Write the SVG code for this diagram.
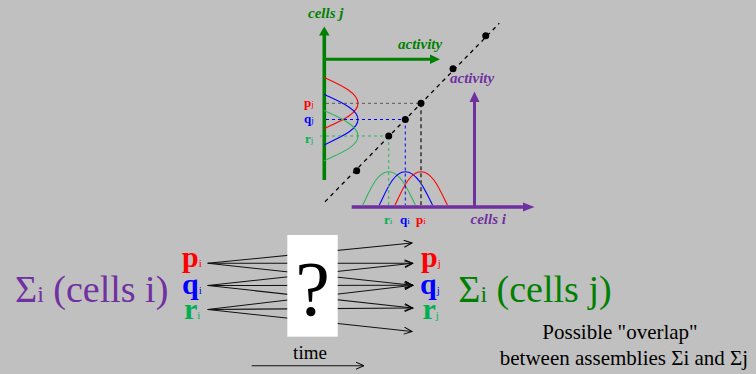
<svg xmlns="http://www.w3.org/2000/svg" width="756" height="374" viewBox="0 0 756 374">
<defs>
<marker id="open" markerWidth="10" markerHeight="8" refX="9" refY="4" orient="auto" markerUnits="userSpaceOnUse">
<path d="M1,0.5 L9,4 L1,7.5" fill="none" stroke="#000" stroke-width="1"/>
</marker>
</defs>
<style>
text{font-family:'Liberation Serif','Times New Roman',serif}
.bi{font-weight:bold;font-style:italic;font-size:15px}
.red{fill:#ff0000}.blue{fill:#0000ff}.lg{fill:#00b050}
.dk{fill:#008000}.pu{fill:#7030a0}
.conn{stroke:#111;stroke-width:1.1;fill:none;marker-end:url(#open)}
.dash{fill:none;stroke-dasharray:3 3;stroke-width:1}
.curve{fill:none;stroke-width:1.1}
</style>
<rect x="0" y="0" width="756" height="374" fill="#c0c0c0"/>

<g id="graph-j-axis">
<line x1="324.3" y1="180" x2="324.3" y2="34" stroke="#008000" stroke-width="3.6"/>
<polygon points="324.3,26.5 319,35.5 329.6,35.5" fill="#008000"/>
<line x1="324.3" y1="59.3" x2="431" y2="59.3" stroke="#008000" stroke-width="3"/>
<polygon points="440,59.3 430,54.6 430,64" fill="#008000"/>
<text class="bi dk" x="308" y="18">cells j</text>
<text class="bi dk" x="398" y="49">activity</text>
</g>

<g id="graph-i-axis">
<line x1="351.7" y1="207" x2="524" y2="207" stroke="#7030a0" stroke-width="3.6"/>
<polygon points="534.5,207 523,202.5 523,211.5" fill="#7030a0"/>
<line x1="474.5" y1="207" x2="474.5" y2="101" stroke="#7030a0" stroke-width="3"/>
<polygon points="474.5,91.5 469.5,102 479.5,102" fill="#7030a0"/>
<text class="bi pu" x="450" y="82.5">activity</text>
<text class="bi pu" x="470.5" y="224">cells i</text>
</g>

<g id="j-curves">
<path class="curve" stroke="#ff0000" d="M324,77.3 C338,84 358,92 358,103.3 C358,114.5 338,122 324,128.5"/>
<path class="curve" stroke="#0000ff" d="M324,94.3 C338,101 358,108.5 358,119.5 C358,130.5 338,138 324,145"/>
<path class="curve" stroke="#2db35f" d="M324,110.5 C338,117 358,125 358,136 C358,147 338,154 324,161"/>
</g>

<g id="i-curves">
<path class="curve" stroke="#2db35f" d="M362.7,205 C370,190 377,171.7 388.7,171.7 C400.4,171.7 408,190 415.3,205"/>
<path class="curve" stroke="#0000ff" d="M379.3,205 C386.6,190 393.6,171.7 405.3,171.7 C417,171.7 425,190 432.5,205"/>
<path class="curve" stroke="#ff0000" d="M395,205 C402.3,190 409.3,171.7 421,171.7 C432.7,171.7 440,190 447.3,205"/>
</g>

<g id="mapping">
<line x1="325" y1="201.7" x2="499.3" y2="23.3" stroke="#000" stroke-width="1.3" stroke-dasharray="4 4"/>
<line class="dash" x1="326" y1="103.3" x2="421" y2="103.3" stroke="#555"/>
<line class="dash" x1="326" y1="119.5" x2="405.3" y2="119.5" stroke="#0000ff"/>
<line class="dash" x1="320" y1="136" x2="388.7" y2="136" stroke="#2db35f"/>
<line x1="421" y1="103.3" x2="421" y2="205" stroke="#555" stroke-width="2" stroke-dasharray="4 3"/>
<line class="dash" x1="405.3" y1="119.5" x2="405.3" y2="205" stroke="#0000ff"/>
<line class="dash" x1="388.7" y1="136" x2="388.7" y2="205" stroke="#2db35f"/>
<circle cx="485.7" cy="35.7" r="3.5"/>
<circle cx="453" cy="68.7" r="3.5"/>
<circle cx="421" cy="103.3" r="3.5"/>
<circle cx="405.3" cy="119.5" r="3.5"/>
<circle cx="388.7" cy="136" r="3.5"/>
<circle cx="356.7" cy="170.7" r="3.5"/>
</g>

<g id="j-labels" font-weight="bold" font-size="13">
<text class="red" x="304" y="107">p<tspan font-size="9" font-weight="normal">j</tspan></text>
<text class="blue" x="304" y="122.7">q<tspan font-size="9" font-weight="normal">j</tspan></text>
<text class="lg" x="305" y="142.5">r<tspan font-size="9" font-weight="normal">j</tspan></text>
</g>
<g id="i-labels" font-weight="bold" font-size="13">
<text class="lg" x="384" y="224">r<tspan font-size="9" font-weight="normal">i</tspan></text>
<text class="blue" x="400" y="224">q<tspan font-size="9" font-weight="normal">i</tspan></text>
<text class="red" x="416" y="224">p<tspan font-size="9" font-weight="normal">i</tspan></text>
</g>

<g id="connectors">
<line class="conn" x1="207.7" y1="263.3" x2="412" y2="243"/>
<line class="conn" x1="207.7" y1="263.3" x2="412.7" y2="263.3"/>
<line class="conn" x1="207.7" y1="263.3" x2="412.7" y2="285.3"/>
<line class="conn" x1="207.7" y1="285.5" x2="412.7" y2="263.3"/>
<line class="conn" x1="207.7" y1="285.5" x2="412.7" y2="285.3"/>
<line class="conn" x1="207.7" y1="285.5" x2="412.7" y2="308"/>
<line class="conn" x1="207.7" y1="309.5" x2="412.7" y2="285.3"/>
<line class="conn" x1="207.7" y1="309.5" x2="412.7" y2="308"/>
<line class="conn" x1="207.7" y1="309.5" x2="412" y2="331.5"/>
<line class="conn" x1="251.7" y1="365.7" x2="364" y2="365.7"/>
</g>

<g id="box">
<rect x="287.3" y="235" width="50.4" height="101.7" fill="#ffffff"/>
<text x="312.5" y="315" font-size="78" text-anchor="middle" fill="#000">?</text>
</g>

<g id="source">
<text class="pu" x="15" y="302" font-size="38">Σ<tspan font-size="24">i</tspan> (cells i)</text>
<text class="red" x="182" y="267" font-size="30" font-weight="bold">p<tspan font-size="11" font-weight="normal">i</tspan></text>
<text class="blue" x="182" y="293.5" font-size="30" font-weight="bold">q<tspan font-size="11" font-weight="normal">i</tspan></text>
<text class="lg" x="184" y="319" font-size="30" font-weight="bold">r<tspan font-size="11" font-weight="normal">i</tspan></text>
</g>

<g id="target">
<text class="red" x="421" y="267" font-size="30" font-weight="bold">p<tspan font-size="11" font-weight="normal">j</tspan></text>
<text class="blue" x="420" y="293.5" font-size="30" font-weight="bold">q<tspan font-size="11" font-weight="normal">j</tspan></text>
<text class="lg" x="422.5" y="319" font-size="30" font-weight="bold">r<tspan font-size="11" font-weight="normal">j</tspan></text>
<text class="dk" x="458.3" y="302" font-size="38">Σ<tspan font-size="24">i</tspan> (cells j)</text>
</g>

<g id="notes" fill="#000">
<text x="310" y="359" font-size="19" text-anchor="middle">time</text>
<text x="620" y="339" font-size="21" text-anchor="middle">Possible "overlap"</text>
<text x="624" y="365" font-size="21" text-anchor="middle">between assemblies Σi and Σj</text>
</g>
</svg>
